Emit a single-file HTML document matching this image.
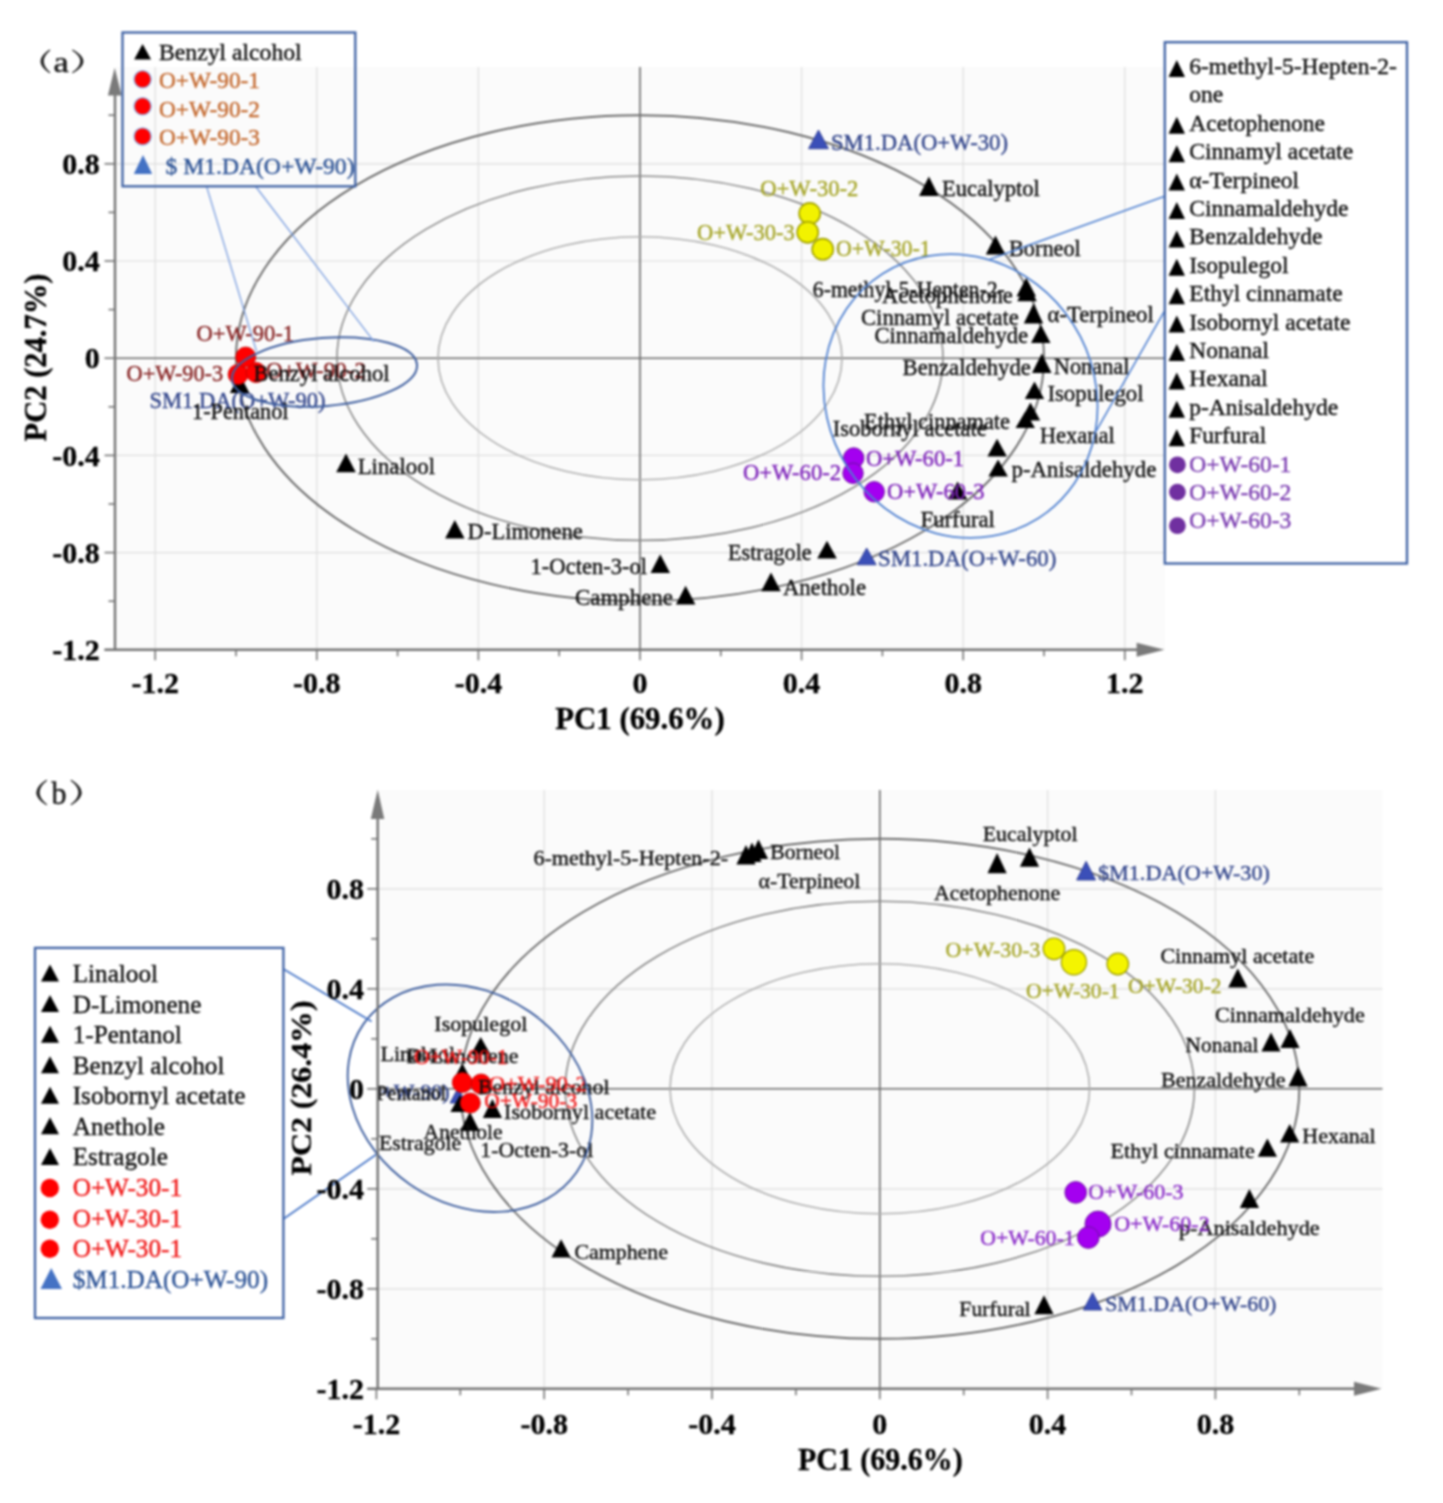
<!DOCTYPE html>
<html><head><meta charset="utf-8"><style>
html,body{margin:0;padding:0;background:#fff;}
svg{display:block;font-family:"Liberation Serif",serif;}
#wrap{filter:blur(0.8px);width:1443px;height:1503px;}
</style></head><body>
<div id="wrap"><svg width="1443" height="1503" viewBox="0 0 1443 1503">
<rect x="0" y="0" width="1443" height="1503" fill="#fff"/>
<rect x="115.0" y="67.0" width="1050.0" height="582.8" fill="#fbfbfb"/>
<line x1="155.2" y1="67.0" x2="155.2" y2="649.8" stroke="#dedede" stroke-width="1.2"/>
<line x1="316.8" y1="67.0" x2="316.8" y2="649.8" stroke="#dedede" stroke-width="1.2"/>
<line x1="478.4" y1="67.0" x2="478.4" y2="649.8" stroke="#dedede" stroke-width="1.2"/>
<line x1="801.6" y1="67.0" x2="801.6" y2="649.8" stroke="#dedede" stroke-width="1.2"/>
<line x1="963.2" y1="67.0" x2="963.2" y2="649.8" stroke="#dedede" stroke-width="1.2"/>
<line x1="1124.8" y1="67.0" x2="1124.8" y2="649.8" stroke="#dedede" stroke-width="1.2"/>
<line x1="115.0" y1="163.8" x2="1165.0" y2="163.8" stroke="#dedede" stroke-width="1.2"/>
<line x1="115.0" y1="261.0" x2="1165.0" y2="261.0" stroke="#dedede" stroke-width="1.2"/>
<line x1="115.0" y1="455.4" x2="1165.0" y2="455.4" stroke="#dedede" stroke-width="1.2"/>
<line x1="115.0" y1="552.6" x2="1165.0" y2="552.6" stroke="#dedede" stroke-width="1.2"/>
<line x1="640.0" y1="67.0" x2="640.0" y2="649.8" stroke="#6a6a6a" stroke-width="1.6"/>
<line x1="115.0" y1="358.2" x2="1165.0" y2="358.2" stroke="#6a6a6a" stroke-width="1.6"/>
<ellipse cx="640.0" cy="358.2" rx="404.0" ry="243.0" fill="none" stroke="#6c6c6c" stroke-width="1.9"/>
<ellipse cx="640.0" cy="358.2" rx="303.0" ry="182.2" fill="none" stroke="#8a8a8a" stroke-width="1.6"/>
<ellipse cx="640.0" cy="358.2" rx="202.0" ry="121.5" fill="none" stroke="#b0b0b0" stroke-width="1.6"/>
<rect x="377.7" y="790.0" width="1004.8" height="598.8" fill="#fbfbfb"/>
<line x1="544.2" y1="790.0" x2="544.2" y2="1388.8" stroke="#dedede" stroke-width="1.2"/>
<line x1="712.0" y1="790.0" x2="712.0" y2="1388.8" stroke="#dedede" stroke-width="1.2"/>
<line x1="1047.6" y1="790.0" x2="1047.6" y2="1388.8" stroke="#dedede" stroke-width="1.2"/>
<line x1="1215.4" y1="790.0" x2="1215.4" y2="1388.8" stroke="#dedede" stroke-width="1.2"/>
<line x1="377.7" y1="888.8" x2="1382.5" y2="888.8" stroke="#dedede" stroke-width="1.2"/>
<line x1="377.7" y1="988.8" x2="1382.5" y2="988.8" stroke="#dedede" stroke-width="1.2"/>
<line x1="377.7" y1="1188.8" x2="1382.5" y2="1188.8" stroke="#dedede" stroke-width="1.2"/>
<line x1="377.7" y1="1288.8" x2="1382.5" y2="1288.8" stroke="#dedede" stroke-width="1.2"/>
<line x1="879.8" y1="790.0" x2="879.8" y2="1388.8" stroke="#6a6a6a" stroke-width="1.6"/>
<line x1="377.7" y1="1088.8" x2="1382.5" y2="1088.8" stroke="#6a6a6a" stroke-width="1.6"/>
<ellipse cx="879.8" cy="1088.8" rx="419.5" ry="250.0" fill="none" stroke="#6c6c6c" stroke-width="1.9"/>
<ellipse cx="879.8" cy="1088.8" rx="314.6" ry="187.5" fill="none" stroke="#8a8a8a" stroke-width="1.6"/>
<ellipse cx="879.8" cy="1088.8" rx="209.8" ry="125.0" fill="none" stroke="#b0b0b0" stroke-width="1.6"/>
<polygon points="928.9,176.6 938.6,196.0 919.1,196.0" fill="#000"/>
<polygon points="995.5,235.6 1005.2,254.4 985.8,254.4" fill="#000"/>
<polygon points="1026.2,277.7 1036.0,296.5 1016.5,296.5" fill="#000"/>
<polygon points="1027.0,282.7 1036.8,301.3 1017.2,301.3" fill="#000"/>
<polygon points="1033.5,303.6 1043.2,323.5 1023.8,323.5" fill="#000"/>
<polygon points="1040.8,324.4 1050.5,343.0 1031.0,343.0" fill="#000"/>
<polygon points="1041.8,353.5 1051.5,373.0 1032.0,373.0" fill="#000"/>
<polygon points="1034.5,381.6 1044.2,399.0 1024.8,399.0" fill="#000"/>
<polygon points="1030.4,402.4 1040.2,420.5 1020.7,420.5" fill="#000"/>
<polygon points="1025.2,411.8 1035.0,428.0 1015.5,428.0" fill="#000"/>
<polygon points="997.1,438.8 1006.9,456.5 987.4,456.5" fill="#000"/>
<polygon points="998.1,459.6 1007.9,476.5 988.4,476.5" fill="#000"/>
<polygon points="957.6,481.4 967.4,499.5 947.9,499.5" fill="#000"/>
<polygon points="827.0,540.7 836.8,558.5 817.2,558.5" fill="#000"/>
<polygon points="771.0,572.4 780.8,591.2 761.2,591.2" fill="#000"/>
<polygon points="685.6,585.7 695.4,604.5 675.9,604.5" fill="#000"/>
<polygon points="660.2,554.2 670.0,573.0 650.5,573.0" fill="#000"/>
<polygon points="454.8,520.1 464.6,538.5 445.1,538.5" fill="#000"/>
<polygon points="346.0,453.4 355.8,472.3 336.2,472.3" fill="#000"/>
<polygon points="239.7,374.2 249.4,393.0 229.9,393.0" fill="#000"/>
<polygon points="818.5,130.0 828.5,148.7 808.5,148.7" fill="#3b4fb8" stroke="#24328a" stroke-width="0.8"/>
<polygon points="866.7,548.0 876.2,564.8 857.2,564.8" fill="#3b4fb8" stroke="#24328a" stroke-width="0.8"/>
<circle cx="238.1" cy="374.4" r="10.0" fill="#ff0000" stroke="#c00000" stroke-width="0.8"/>
<circle cx="256.1" cy="372.5" r="10.0" fill="#ff0000" stroke="#c00000" stroke-width="0.8"/>
<circle cx="245.7" cy="357.0" r="10.0" fill="#ff0000" stroke="#c00000" stroke-width="0.8"/>
<circle cx="809.7" cy="213.5" r="10.6" fill="#f2f200" stroke="#a2a200" stroke-width="1.6"/>
<circle cx="807.7" cy="232.3" r="10.6" fill="#f2f200" stroke="#a2a200" stroke-width="1.6"/>
<circle cx="822.7" cy="249.2" r="10.6" fill="#f2f200" stroke="#a2a200" stroke-width="1.6"/>
<circle cx="853.7" cy="458.0" r="10.2" fill="#a400f0" stroke="#6a10a0" stroke-width="1.0"/>
<circle cx="853.0" cy="473.2" r="10.2" fill="#a400f0" stroke="#6a10a0" stroke-width="1.0"/>
<circle cx="874.2" cy="491.8" r="10.2" fill="#a400f0" stroke="#6a10a0" stroke-width="1.0"/>
<text x="196.5" y="341.0" fill="#862222" font-size="22.6" textLength="97.5" lengthAdjust="spacingAndGlyphs" stroke="#862222" stroke-width="0.4">O+W-90-1</text>
<text x="126.6" y="381.0" fill="#862222" font-size="22.6" textLength="96.4" lengthAdjust="spacingAndGlyphs" stroke="#862222" stroke-width="0.4">O+W-90-3</text>
<text x="266.0" y="377.8" fill="#862222" font-size="22.6" textLength="100.0" lengthAdjust="spacingAndGlyphs" stroke="#862222" stroke-width="0.4">O+W-90-2</text>
<text x="149.5" y="408.2" fill="#34478c" font-size="22.6" textLength="176.0" lengthAdjust="spacingAndGlyphs" stroke="#34478c" stroke-width="0.4">SM1.DA(O+W-90)</text>
<text x="253.5" y="381.0" fill="#101010" font-size="22.6" textLength="136.0" lengthAdjust="spacingAndGlyphs" stroke="#101010" stroke-width="0.4">Benzyl alcohol</text>
<text x="192.0" y="419.3" fill="#101010" font-size="22.6" textLength="96.5" lengthAdjust="spacingAndGlyphs" stroke="#101010" stroke-width="0.4">1-Pentanol</text>
<text x="357.7" y="474.0" fill="#101010" font-size="22.6" textLength="77.3" lengthAdjust="spacingAndGlyphs" stroke="#101010" stroke-width="0.4">Linalool</text>
<text x="467.6" y="538.9" fill="#101010" font-size="22.6" textLength="115.3" lengthAdjust="spacingAndGlyphs" stroke="#101010" stroke-width="0.4">D-Limonene</text>
<text x="530.6" y="574.2" fill="#101010" font-size="22.6" textLength="116.4" lengthAdjust="spacingAndGlyphs" stroke="#101010" stroke-width="0.4">1-Octen-3-ol</text>
<text x="575.0" y="604.5" fill="#101010" font-size="22.6" textLength="98.0" lengthAdjust="spacingAndGlyphs" stroke="#101010" stroke-width="0.4">Camphene</text>
<text x="728.0" y="559.8" fill="#101010" font-size="22.6" textLength="83.7" lengthAdjust="spacingAndGlyphs" stroke="#101010" stroke-width="0.4">Estragole</text>
<text x="782.9" y="594.8" fill="#101010" font-size="22.6" textLength="83.1" lengthAdjust="spacingAndGlyphs" stroke="#101010" stroke-width="0.4">Anethole</text>
<text x="878.0" y="566.0" fill="#34478c" font-size="22.6" textLength="178.4" lengthAdjust="spacingAndGlyphs" stroke="#34478c" stroke-width="0.4">SM1.DA(O+W-60)</text>
<text x="920.5" y="527.4" fill="#101010" font-size="22.6" textLength="74.4" lengthAdjust="spacingAndGlyphs" stroke="#101010" stroke-width="0.4">Furfural</text>
<text x="1011.5" y="477.4" fill="#101010" font-size="22.6" textLength="144.9" lengthAdjust="spacingAndGlyphs" stroke="#101010" stroke-width="0.4">p-Anisaldehyde</text>
<text x="1039.7" y="442.8" fill="#101010" font-size="22.6" textLength="75.2" lengthAdjust="spacingAndGlyphs" stroke="#101010" stroke-width="0.4">Hexanal</text>
<text x="864.0" y="428.7" fill="#101010" font-size="22.6" textLength="146.0" lengthAdjust="spacingAndGlyphs" stroke="#101010" stroke-width="0.4">Ethyl cinnamate</text>
<text x="832.8" y="435.9" fill="#101010" font-size="22.6" textLength="153.9" lengthAdjust="spacingAndGlyphs" stroke="#101010" stroke-width="0.4">Isobornyl acetate</text>
<text x="866.0" y="466.0" fill="#7e24ba" font-size="22.6" textLength="98.0" lengthAdjust="spacingAndGlyphs" stroke="#7e24ba" stroke-width="0.4">O+W-60-1</text>
<text x="743.0" y="480.0" fill="#7e24ba" font-size="22.6" textLength="98.0" lengthAdjust="spacingAndGlyphs" stroke="#7e24ba" stroke-width="0.4">O+W-60-2</text>
<text x="887.0" y="499.2" fill="#7e24ba" font-size="22.6" textLength="97.6" lengthAdjust="spacingAndGlyphs" stroke="#7e24ba" stroke-width="0.4">O+W-60-3</text>
<text x="1047.4" y="400.5" fill="#101010" font-size="22.6" textLength="96.2" lengthAdjust="spacingAndGlyphs" stroke="#101010" stroke-width="0.4">Isopulegol</text>
<text x="902.6" y="374.9" fill="#101010" font-size="22.6" textLength="128.2" lengthAdjust="spacingAndGlyphs" stroke="#101010" stroke-width="0.4">Benzaldehyde</text>
<text x="1053.8" y="373.6" fill="#101010" font-size="22.6" textLength="75.7" lengthAdjust="spacingAndGlyphs" stroke="#101010" stroke-width="0.4">Nonanal</text>
<text x="874.4" y="342.8" fill="#101010" font-size="22.6" textLength="153.8" lengthAdjust="spacingAndGlyphs" stroke="#101010" stroke-width="0.4">Cinnamaldehyde</text>
<text x="861.0" y="324.9" fill="#101010" font-size="22.6" textLength="157.8" lengthAdjust="spacingAndGlyphs" stroke="#101010" stroke-width="0.4">Cinnamyl acetate</text>
<text x="1047.4" y="322.3" fill="#101010" font-size="22.6" textLength="106.4" lengthAdjust="spacingAndGlyphs" stroke="#101010" stroke-width="0.4">α-Terpineol</text>
<text x="882.0" y="303.0" fill="#101010" font-size="22.6" textLength="130.8" lengthAdjust="spacingAndGlyphs" stroke="#101010" stroke-width="0.4">Acetophenone</text>
<text x="812.8" y="297.2" fill="#101010" font-size="22.6" textLength="192.0" lengthAdjust="spacingAndGlyphs" stroke="#101010" stroke-width="0.4">6-methyl-5-Hepten-2-</text>
<text x="1009.0" y="255.6" fill="#101010" font-size="22.6" textLength="71.8" lengthAdjust="spacingAndGlyphs" stroke="#101010" stroke-width="0.4">Borneol</text>
<text x="942.0" y="196.0" fill="#101010" font-size="22.6" stroke="#101010" stroke-width="0.4">Eucalyptol</text>
<text x="831.0" y="150.0" fill="#34478c" font-size="22.6" textLength="177.0" lengthAdjust="spacingAndGlyphs" stroke="#34478c" stroke-width="0.4">SM1.DA(O+W-30)</text>
<text x="760.3" y="196.0" fill="#a6a62a" font-size="22.6" textLength="98.1" lengthAdjust="spacingAndGlyphs" stroke="#a6a62a" stroke-width="0.4">O+W-30-2</text>
<text x="697.0" y="239.7" fill="#a6a62a" font-size="22.6" textLength="97.8" lengthAdjust="spacingAndGlyphs" stroke="#a6a62a" stroke-width="0.4">O+W-30-3</text>
<text x="836.0" y="256.0" fill="#a6a62a" font-size="22.6" textLength="94.7" lengthAdjust="spacingAndGlyphs" stroke="#a6a62a" stroke-width="0.4">O+W-30-1</text>
<ellipse cx="324.5" cy="372.0" rx="92.8" ry="34.0" fill="none" stroke="#3f5f9f" stroke-width="2.0" transform="rotate(-4.6 324.5 372.0)"/>
<ellipse cx="960.5" cy="396.0" rx="145.0" ry="133.7" fill="none" stroke="#4f80d0" stroke-width="1.8" transform="rotate(57.5 960.5 396.0)"/>
<line x1="206.6" y1="186.5" x2="256.5" y2="351.3" stroke="#7c9fe0" stroke-width="1.3"/>
<line x1="255.7" y1="186.5" x2="373.8" y2="341.3" stroke="#7c9fe0" stroke-width="1.3"/>
<line x1="1164.0" y1="196.4" x2="989.9" y2="259.3" stroke="#4f80d0" stroke-width="1.6"/>
<line x1="1164.0" y1="311.9" x2="1096.0" y2="431.4" stroke="#4f80d0" stroke-width="1.6"/>
<line x1="104.5" y1="649.8" x2="1138.0" y2="649.8" stroke="#747474" stroke-width="2.4"/>
<line x1="115.0" y1="95.0" x2="115.0" y2="651.0" stroke="#747474" stroke-width="2.4"/>
<polygon points="114.7,67.8 121.6,95.5 107.9,95.5" fill="#7a7a7a"/>
<polygon points="1164.5,649.8 1136.6,642.8 1136.6,656.8" fill="#7a7a7a"/>
<line x1="155.2" y1="649.8" x2="155.2" y2="660.3" stroke="#747474" stroke-width="1.6"/>
<line x1="236.0" y1="649.8" x2="236.0" y2="656.3" stroke="#747474" stroke-width="1.6"/>
<line x1="316.8" y1="649.8" x2="316.8" y2="660.3" stroke="#747474" stroke-width="1.6"/>
<line x1="397.6" y1="649.8" x2="397.6" y2="656.3" stroke="#747474" stroke-width="1.6"/>
<line x1="478.4" y1="649.8" x2="478.4" y2="660.3" stroke="#747474" stroke-width="1.6"/>
<line x1="559.2" y1="649.8" x2="559.2" y2="656.3" stroke="#747474" stroke-width="1.6"/>
<line x1="640.0" y1="649.8" x2="640.0" y2="660.3" stroke="#747474" stroke-width="1.6"/>
<line x1="720.8" y1="649.8" x2="720.8" y2="656.3" stroke="#747474" stroke-width="1.6"/>
<line x1="801.6" y1="649.8" x2="801.6" y2="660.3" stroke="#747474" stroke-width="1.6"/>
<line x1="882.4" y1="649.8" x2="882.4" y2="656.3" stroke="#747474" stroke-width="1.6"/>
<line x1="963.2" y1="649.8" x2="963.2" y2="660.3" stroke="#747474" stroke-width="1.6"/>
<line x1="1044.0" y1="649.8" x2="1044.0" y2="656.3" stroke="#747474" stroke-width="1.6"/>
<line x1="1124.8" y1="649.8" x2="1124.8" y2="660.3" stroke="#747474" stroke-width="1.6"/>
<line x1="104.5" y1="649.8" x2="115.0" y2="649.8" stroke="#747474" stroke-width="1.6"/>
<line x1="108.5" y1="601.2" x2="115.0" y2="601.2" stroke="#747474" stroke-width="1.6"/>
<line x1="104.5" y1="552.6" x2="115.0" y2="552.6" stroke="#747474" stroke-width="1.6"/>
<line x1="108.5" y1="504.0" x2="115.0" y2="504.0" stroke="#747474" stroke-width="1.6"/>
<line x1="104.5" y1="455.4" x2="115.0" y2="455.4" stroke="#747474" stroke-width="1.6"/>
<line x1="108.5" y1="406.8" x2="115.0" y2="406.8" stroke="#747474" stroke-width="1.6"/>
<line x1="104.5" y1="358.2" x2="115.0" y2="358.2" stroke="#747474" stroke-width="1.6"/>
<line x1="108.5" y1="309.6" x2="115.0" y2="309.6" stroke="#747474" stroke-width="1.6"/>
<line x1="104.5" y1="261.0" x2="115.0" y2="261.0" stroke="#747474" stroke-width="1.6"/>
<line x1="108.5" y1="212.4" x2="115.0" y2="212.4" stroke="#747474" stroke-width="1.6"/>
<line x1="104.5" y1="163.8" x2="115.0" y2="163.8" stroke="#747474" stroke-width="1.6"/>
<line x1="108.5" y1="115.2" x2="115.0" y2="115.2" stroke="#747474" stroke-width="1.6"/>
<text x="155.2" y="693.4" fill="#000" font-size="30" font-weight="bold" text-anchor="middle" stroke="#000" stroke-width="0.3">-1.2</text>
<text x="316.8" y="693.4" fill="#000" font-size="30" font-weight="bold" text-anchor="middle" stroke="#000" stroke-width="0.3">-0.8</text>
<text x="478.4" y="693.4" fill="#000" font-size="30" font-weight="bold" text-anchor="middle" stroke="#000" stroke-width="0.3">-0.4</text>
<text x="640.0" y="693.4" fill="#000" font-size="30" font-weight="bold" text-anchor="middle" stroke="#000" stroke-width="0.3">0</text>
<text x="801.6" y="693.4" fill="#000" font-size="30" font-weight="bold" text-anchor="middle" stroke="#000" stroke-width="0.3">0.4</text>
<text x="963.2" y="693.4" fill="#000" font-size="30" font-weight="bold" text-anchor="middle" stroke="#000" stroke-width="0.3">0.8</text>
<text x="1124.8" y="693.4" fill="#000" font-size="30" font-weight="bold" text-anchor="middle" stroke="#000" stroke-width="0.3">1.2</text>
<text x="99.8" y="174.0" fill="#000" font-size="30" font-weight="bold" text-anchor="end" stroke="#000" stroke-width="0.3">0.8</text>
<text x="99.8" y="271.2" fill="#000" font-size="30" font-weight="bold" text-anchor="end" stroke="#000" stroke-width="0.3">0.4</text>
<text x="99.8" y="368.4" fill="#000" font-size="30" font-weight="bold" text-anchor="end" stroke="#000" stroke-width="0.3">0</text>
<text x="99.8" y="465.6" fill="#000" font-size="30" font-weight="bold" text-anchor="end" stroke="#000" stroke-width="0.3">-0.4</text>
<text x="99.8" y="562.8" fill="#000" font-size="30" font-weight="bold" text-anchor="end" stroke="#000" stroke-width="0.3">-0.8</text>
<text x="99.8" y="660.0" fill="#000" font-size="30" font-weight="bold" text-anchor="end" stroke="#000" stroke-width="0.3">-1.2</text>
<text x="640.0" y="729.4" fill="#000" font-size="31" font-weight="bold" text-anchor="middle" textLength="169.4" lengthAdjust="spacingAndGlyphs" stroke="#000" stroke-width="0.3">PC1 (69.6%)</text>
<text transform="translate(45.5 357.5) rotate(-90)" x="0" y="0" text-anchor="middle" fill="#000" stroke="#000" stroke-width="0.3" font-size="31" font-weight="bold" textLength="168" lengthAdjust="spacingAndGlyphs">PC2 (24.7%)</text>
<path d="M49.5 49.5 Q31.3 61.4 49.5 73.2 L50.4 72.4 Q37.1 61.4 50.4 50.3 Z" fill="#222"/>
<path d="M72.8 49.5 Q94.4 61.4 72.8 73.2 L71.9 72.4 Q88.6 61.4 71.9 50.3 Z" fill="#222"/>
<text x="53.6" y="72.4" font-size="30" fill="#1a1a1a" stroke="#1a1a1a" stroke-width="0.5" textLength="15.2" lengthAdjust="spacingAndGlyphs">a</text>
<rect x="122.5" y="32.5" width="232.8" height="153.8" fill="none" stroke="#3f62a4" stroke-width="2.3"/>
<polygon points="142.6,44.0 151.1,59.5 134.1,59.5" fill="#000"/>
<text x="159.0" y="59.5" fill="#101010" font-size="23.5" textLength="142.7" lengthAdjust="spacingAndGlyphs" stroke="#101010" stroke-width="0.4">Benzyl alcohol</text>
<circle cx="142.6" cy="79.3" r="8.6" fill="#ff0000" stroke="#8fb4e8" stroke-width="1.3"/>
<text x="159.0" y="87.6" fill="#c4692f" font-size="23.5" textLength="101.0" lengthAdjust="spacingAndGlyphs" stroke="#c4692f" stroke-width="0.4">O+W-90-1</text>
<circle cx="142.6" cy="106.3" r="8.6" fill="#ff0000" stroke="#8fb4e8" stroke-width="1.3"/>
<text x="159.0" y="116.7" fill="#c4692f" font-size="23.5" textLength="101.0" lengthAdjust="spacingAndGlyphs" stroke="#c4692f" stroke-width="0.4">O+W-90-2</text>
<circle cx="142.6" cy="136.4" r="8.6" fill="#ff0000" stroke="#8fb4e8" stroke-width="1.3"/>
<text x="159.0" y="144.7" fill="#c4692f" font-size="23.5" textLength="101.0" lengthAdjust="spacingAndGlyphs" stroke="#c4692f" stroke-width="0.4">O+W-90-3</text>
<polygon points="143.0,155.0 152.2,174.0 133.8,174.0" fill="#4472c4"/>
<text x="165.5" y="173.8" fill="#2f5597" font-size="23.5" textLength="189.0" lengthAdjust="spacingAndGlyphs" stroke="#2f5597" stroke-width="0.4">$ M1.DA(O+W-90)</text>
<rect x="1164.8" y="42.2" width="242.2" height="521.3" fill="#ffffff" stroke="#3f62a4" stroke-width="2.3"/>
<polygon points="1176.8,60.0 1185.0,77.0 1168.5,77.0" fill="#000"/>
<text x="1189.3" y="74.0" fill="#101010" font-size="23.5" stroke="#101010" stroke-width="0.4">6-methyl-5-Hepten-2-</text>
<text x="1189.3" y="102.4" fill="#101010" font-size="23.5" stroke="#101010" stroke-width="0.4">one</text>
<polygon points="1176.8,116.8 1185.0,133.8 1168.5,133.8" fill="#000"/>
<text x="1189.3" y="130.8" fill="#101010" font-size="23.5" stroke="#101010" stroke-width="0.4">Acetophenone</text>
<polygon points="1176.8,145.2 1185.0,162.2 1168.5,162.2" fill="#000"/>
<text x="1189.3" y="159.2" fill="#101010" font-size="23.5" stroke="#101010" stroke-width="0.4">Cinnamyl acetate</text>
<polygon points="1176.8,173.6 1185.0,190.6 1168.5,190.6" fill="#000"/>
<text x="1189.3" y="187.6" fill="#101010" font-size="23.5" stroke="#101010" stroke-width="0.4">α-Terpineol</text>
<polygon points="1176.8,202.0 1185.0,219.0 1168.5,219.0" fill="#000"/>
<text x="1189.3" y="216.0" fill="#101010" font-size="23.5" stroke="#101010" stroke-width="0.4">Cinnamaldehyde</text>
<polygon points="1176.8,230.4 1185.0,247.4 1168.5,247.4" fill="#000"/>
<text x="1189.3" y="244.4" fill="#101010" font-size="23.5" stroke="#101010" stroke-width="0.4">Benzaldehyde</text>
<polygon points="1176.8,258.8 1185.0,275.8 1168.5,275.8" fill="#000"/>
<text x="1189.3" y="272.8" fill="#101010" font-size="23.5" stroke="#101010" stroke-width="0.4">Isopulegol</text>
<polygon points="1176.8,287.2 1185.0,304.2 1168.5,304.2" fill="#000"/>
<text x="1189.3" y="301.2" fill="#101010" font-size="23.5" stroke="#101010" stroke-width="0.4">Ethyl cinnamate</text>
<polygon points="1176.8,315.6 1185.0,332.6 1168.5,332.6" fill="#000"/>
<text x="1189.3" y="329.6" fill="#101010" font-size="23.5" stroke="#101010" stroke-width="0.4">Isobornyl acetate</text>
<polygon points="1176.8,344.0 1185.0,361.0 1168.5,361.0" fill="#000"/>
<text x="1189.3" y="358.0" fill="#101010" font-size="23.5" stroke="#101010" stroke-width="0.4">Nonanal</text>
<polygon points="1176.8,372.4 1185.0,389.4 1168.5,389.4" fill="#000"/>
<text x="1189.3" y="386.4" fill="#101010" font-size="23.5" stroke="#101010" stroke-width="0.4">Hexanal</text>
<polygon points="1176.8,400.8 1185.0,417.8 1168.5,417.8" fill="#000"/>
<text x="1189.3" y="414.8" fill="#101010" font-size="23.5" stroke="#101010" stroke-width="0.4">p-Anisaldehyde</text>
<polygon points="1176.8,429.2 1185.0,446.2 1168.5,446.2" fill="#000"/>
<text x="1189.3" y="443.2" fill="#101010" font-size="23.5" stroke="#101010" stroke-width="0.4">Furfural</text>
<circle cx="1177.4" cy="464.8" r="8.4" fill="#7030a0"/>
<text x="1189.3" y="471.6" fill="#7a3cb0" font-size="23.5" stroke="#7a3cb0" stroke-width="0.4">O+W-60-1</text>
<circle cx="1177.4" cy="492.1" r="8.4" fill="#7030a0"/>
<text x="1189.3" y="500.0" fill="#7a3cb0" font-size="23.5" stroke="#7a3cb0" stroke-width="0.4">O+W-60-2</text>
<circle cx="1177.4" cy="525.7" r="8.4" fill="#7030a0"/>
<text x="1189.3" y="528.4" fill="#7a3cb0" font-size="23.5" stroke="#7a3cb0" stroke-width="0.4">O+W-60-3</text>
<clipPath id="cb"><rect x="377.5" y="790" width="1005" height="600"/></clipPath>
<polygon points="458.0,1088.0 466.0,1103.0 450.0,1103.0" fill="#3b4fb8" stroke="#24328a" stroke-width="0.8"/>
<polygon points="746.0,845.0 755.6,864.5 736.4,864.5" fill="#000"/>
<polygon points="752.0,842.5 761.6,862.0 742.4,862.0" fill="#000"/>
<polygon points="758.5,839.6 768.1,859.0 748.9,859.0" fill="#000"/>
<polygon points="1029.5,847.6 1039.1,866.7 1019.9,866.7" fill="#000"/>
<polygon points="997.1,853.0 1006.7,873.2 987.5,873.2" fill="#000"/>
<polygon points="1237.8,968.4 1247.4,987.4 1228.2,987.4" fill="#000"/>
<polygon points="1271.0,1032.5 1280.6,1051.5 1261.4,1051.5" fill="#000"/>
<polygon points="1290.0,1029.0 1299.6,1048.0 1280.4,1048.0" fill="#000"/>
<polygon points="1298.0,1066.5 1307.6,1086.5 1288.4,1086.5" fill="#000"/>
<polygon points="1289.7,1124.0 1299.3,1142.5 1280.1,1142.5" fill="#000"/>
<polygon points="1267.4,1138.5 1277.0,1156.8 1257.8,1156.8" fill="#000"/>
<polygon points="1249.4,1189.0 1259.0,1208.0 1239.8,1208.0" fill="#000"/>
<polygon points="1044.0,1295.2 1053.6,1314.2 1034.4,1314.2" fill="#000"/>
<polygon points="561.1,1239.3 570.7,1257.5 551.5,1257.5" fill="#000"/>
<polygon points="480.7,1037.1 490.3,1054.0 471.1,1054.0" fill="#000"/>
<polygon points="462.3,1063.2 471.9,1081.0 452.7,1081.0" fill="#000"/>
<polygon points="460.0,1095.0 469.6,1112.0 450.4,1112.0" fill="#000"/>
<polygon points="492.4,1099.0 502.0,1118.0 482.8,1118.0" fill="#000"/>
<polygon points="469.9,1112.0 479.5,1131.0 460.3,1131.0" fill="#000"/>
<polygon points="1086.1,861.3 1095.6,880.0 1076.6,880.0" fill="#3b4fb8" stroke="#24328a" stroke-width="0.8"/>
<polygon points="1092.6,1292.6 1101.8,1310.0 1083.3,1310.0" fill="#3b4fb8" stroke="#24328a" stroke-width="0.8"/>
<circle cx="1054.0" cy="948.8" r="10.8" fill="#f4f400" stroke="#9a9a00" stroke-width="1.2"/>
<circle cx="1073.9" cy="962.2" r="12.6" fill="#f4f400" stroke="#9a9a00" stroke-width="1.2"/>
<circle cx="1117.8" cy="964.0" r="10.8" fill="#f4f400" stroke="#9a9a00" stroke-width="1.2"/>
<circle cx="1075.7" cy="1192.4" r="10.8" fill="#a400f0" stroke="#6a10a0" stroke-width="1.0"/>
<circle cx="1098.0" cy="1224.1" r="13.0" fill="#a400f0" stroke="#6a10a0" stroke-width="1.0"/>
<circle cx="1088.3" cy="1237.5" r="10.8" fill="#a400f0" stroke="#6a10a0" stroke-width="1.0"/>
<circle cx="462.3" cy="1082.6" r="10.0" fill="#ff0000" stroke="#c00000" stroke-width="0.8"/>
<circle cx="481.1" cy="1084.0" r="10.0" fill="#ff0000" stroke="#c00000" stroke-width="0.8"/>
<circle cx="470.3" cy="1103.0" r="10.0" fill="#ff0000" stroke="#c00000" stroke-width="0.8"/>
<text x="533.4" y="865.2" fill="#101010" font-size="22.0" textLength="194.6" lengthAdjust="spacingAndGlyphs" clip-path="url(#cb)" stroke="#101010" stroke-width="0.4">6-methyl-5-Hepten-2-</text>
<text x="770.3" y="859.0" fill="#101010" font-size="22.0" textLength="69.8" lengthAdjust="spacingAndGlyphs" clip-path="url(#cb)" stroke="#101010" stroke-width="0.4">Borneol</text>
<text x="758.6" y="888.4" fill="#101010" font-size="22.0" textLength="101.7" lengthAdjust="spacingAndGlyphs" clip-path="url(#cb)" stroke="#101010" stroke-width="0.4">α-Terpineol</text>
<text x="982.7" y="841.4" fill="#101010" font-size="22.0" textLength="94.8" lengthAdjust="spacingAndGlyphs" clip-path="url(#cb)" stroke="#101010" stroke-width="0.4">Eucalyptol</text>
<text x="934.0" y="900.2" fill="#101010" font-size="22.0" textLength="126.2" lengthAdjust="spacingAndGlyphs" clip-path="url(#cb)" stroke="#101010" stroke-width="0.4">Acetophenone</text>
<text x="1098.0" y="880.0" fill="#34478c" font-size="22.0" textLength="171.9" lengthAdjust="spacingAndGlyphs" clip-path="url(#cb)" stroke="#34478c" stroke-width="0.4">$M1.DA(O+W-30)</text>
<text x="945.6" y="956.8" fill="#a6a62a" font-size="22.0" textLength="94.8" lengthAdjust="spacingAndGlyphs" clip-path="url(#cb)" stroke="#a6a62a" stroke-width="0.4">O+W-30-3</text>
<text x="1026.0" y="997.5" fill="#a6a62a" font-size="22.0" textLength="93.6" lengthAdjust="spacingAndGlyphs" clip-path="url(#cb)" stroke="#a6a62a" stroke-width="0.4">O+W-30-1</text>
<text x="1128.0" y="992.8" fill="#a6a62a" font-size="22.0" textLength="93.6" lengthAdjust="spacingAndGlyphs" clip-path="url(#cb)" stroke="#a6a62a" stroke-width="0.4">O+W-30-2</text>
<text x="1160.4" y="962.9" fill="#101010" font-size="22.0" textLength="153.8" lengthAdjust="spacingAndGlyphs" clip-path="url(#cb)" stroke="#101010" stroke-width="0.4">Cinnamyl acetate</text>
<text x="1215.0" y="1021.8" fill="#101010" font-size="22.0" textLength="149.7" lengthAdjust="spacingAndGlyphs" clip-path="url(#cb)" stroke="#101010" stroke-width="0.4">Cinnamaldehyde</text>
<text x="1185.6" y="1052.3" fill="#101010" font-size="22.0" textLength="72.8" lengthAdjust="spacingAndGlyphs" clip-path="url(#cb)" stroke="#101010" stroke-width="0.4">Nonanal</text>
<text x="1161.0" y="1086.5" fill="#101010" font-size="22.0" textLength="124.4" lengthAdjust="spacingAndGlyphs" clip-path="url(#cb)" stroke="#101010" stroke-width="0.4">Benzaldehyde</text>
<text x="1302.3" y="1143.0" fill="#101010" font-size="22.0" textLength="73.2" lengthAdjust="spacingAndGlyphs" clip-path="url(#cb)" stroke="#101010" stroke-width="0.4">Hexanal</text>
<text x="1110.6" y="1157.5" fill="#101010" font-size="22.0" textLength="144.2" lengthAdjust="spacingAndGlyphs" clip-path="url(#cb)" stroke="#101010" stroke-width="0.4">Ethyl cinnamate</text>
<text x="1179.0" y="1235.0" fill="#101010" font-size="22.0" textLength="140.6" lengthAdjust="spacingAndGlyphs" clip-path="url(#cb)" stroke="#101010" stroke-width="0.4">p-Anisaldehyde</text>
<text x="1088.3" y="1199.0" fill="#8a2cc8" font-size="22.0" textLength="95.1" lengthAdjust="spacingAndGlyphs" clip-path="url(#cb)" stroke="#8a2cc8" stroke-width="0.4">O+W-60-3</text>
<text x="1114.2" y="1231.4" fill="#8a2cc8" font-size="22.0" textLength="95.5" lengthAdjust="spacingAndGlyphs" clip-path="url(#cb)" stroke="#8a2cc8" stroke-width="0.4">O+W-60-2</text>
<text x="980.2" y="1245.0" fill="#8a2cc8" font-size="22.0" textLength="94.4" lengthAdjust="spacingAndGlyphs" clip-path="url(#cb)" stroke="#8a2cc8" stroke-width="0.4">O+W-60-1</text>
<text x="959.3" y="1316.0" fill="#101010" font-size="22.0" textLength="71.3" lengthAdjust="spacingAndGlyphs" clip-path="url(#cb)" stroke="#101010" stroke-width="0.4">Furfural</text>
<text x="1105.2" y="1310.6" fill="#34478c" font-size="22.0" textLength="171.2" lengthAdjust="spacingAndGlyphs" clip-path="url(#cb)" stroke="#34478c" stroke-width="0.4">SM1.DA(O+W-60)</text>
<text x="574.4" y="1259.0" fill="#101010" font-size="22.0" textLength="93.6" lengthAdjust="spacingAndGlyphs" clip-path="url(#cb)" stroke="#101010" stroke-width="0.4">Camphene</text>
<text x="434.3" y="1030.7" fill="#101010" font-size="22.0" textLength="93.0" lengthAdjust="spacingAndGlyphs" clip-path="url(#cb)" stroke="#101010" stroke-width="0.4">Isopulegol</text>
<text x="380.5" y="1061.0" fill="#101010" font-size="22.0" clip-path="url(#cb)" stroke="#101010" stroke-width="0.4">Linalool</text>
<text x="406.5" y="1062.8" fill="#101010" font-size="22.0" textLength="112.0" lengthAdjust="spacingAndGlyphs" clip-path="url(#cb)" stroke="#101010" stroke-width="0.4">D-Limonene</text>
<text x="414.0" y="1064.2" fill="#f01818" font-size="22.0" textLength="93.7" lengthAdjust="spacingAndGlyphs" clip-path="url(#cb)" stroke="#f01818" stroke-width="0.4">O+W-90-1</text>
<text x="278.6" y="1099.0" fill="#34478c" font-size="22.0" textLength="171.0" lengthAdjust="spacingAndGlyphs" clip-path="url(#cb)" stroke="#34478c" stroke-width="0.4">SM1.DA(O+W-90)</text>
<text x="360.0" y="1099.5" fill="#101010" font-size="22.0" textLength="86.0" lengthAdjust="spacingAndGlyphs" clip-path="url(#cb)" stroke="#101010" stroke-width="0.4">1-Pentanol</text>
<text x="478.0" y="1094.0" fill="#101010" font-size="22.0" textLength="131.5" lengthAdjust="spacingAndGlyphs" clip-path="url(#cb)" stroke="#101010" stroke-width="0.4">Benzyl alcohol</text>
<text x="488.8" y="1091.3" fill="#f01818" font-size="22.0" textLength="98.0" lengthAdjust="spacingAndGlyphs" clip-path="url(#cb)" stroke="#f01818" stroke-width="0.4">O+W-90-2</text>
<text x="484.3" y="1107.5" fill="#f01818" font-size="22.0" textLength="92.8" lengthAdjust="spacingAndGlyphs" clip-path="url(#cb)" stroke="#f01818" stroke-width="0.4">O+W-90-3</text>
<text x="504.1" y="1119.2" fill="#101010" font-size="22.0" textLength="152.0" lengthAdjust="spacingAndGlyphs" clip-path="url(#cb)" stroke="#101010" stroke-width="0.4">Isobornyl acetate</text>
<text x="423.6" y="1139.0" fill="#101010" font-size="22.0" textLength="79.0" lengthAdjust="spacingAndGlyphs" clip-path="url(#cb)" stroke="#101010" stroke-width="0.4">Anethole</text>
<text x="378.9" y="1149.6" fill="#101010" font-size="22.0" textLength="82.4" lengthAdjust="spacingAndGlyphs" clip-path="url(#cb)" stroke="#101010" stroke-width="0.4">Estragole</text>
<text x="480.2" y="1156.7" fill="#101010" font-size="22.0" textLength="113.1" lengthAdjust="spacingAndGlyphs" clip-path="url(#cb)" stroke="#101010" stroke-width="0.4">1-Octen-3-ol</text>
<ellipse cx="470.0" cy="1098.2" rx="129.8" ry="105.1" fill="none" stroke="#3f5f9f" stroke-width="1.9" transform="rotate(34.8 470.0 1098.2)"/>
<line x1="283.4" y1="969.0" x2="371.6" y2="1021.6" stroke="#4a78c8" stroke-width="1.8"/>
<line x1="283.4" y1="1219.0" x2="376.9" y2="1153.9" stroke="#4a78c8" stroke-width="1.8"/>
<line x1="367.2" y1="1388.8" x2="1355.0" y2="1388.8" stroke="#747474" stroke-width="2.4"/>
<line x1="377.7" y1="818.0" x2="377.7" y2="1390.0" stroke="#747474" stroke-width="2.4"/>
<polygon points="377.7,789.8 384.3,818.9 370.8,818.9" fill="#7a7a7a"/>
<polygon points="1381.5,1388.8 1354,1381.8 1354,1395.8" fill="#7a7a7a"/>
<line x1="376.4" y1="1388.8" x2="376.4" y2="1399.3" stroke="#747474" stroke-width="1.6"/>
<line x1="460.3" y1="1388.8" x2="460.3" y2="1395.3" stroke="#747474" stroke-width="1.6"/>
<line x1="544.2" y1="1388.8" x2="544.2" y2="1399.3" stroke="#747474" stroke-width="1.6"/>
<line x1="628.1" y1="1388.8" x2="628.1" y2="1395.3" stroke="#747474" stroke-width="1.6"/>
<line x1="712.0" y1="1388.8" x2="712.0" y2="1399.3" stroke="#747474" stroke-width="1.6"/>
<line x1="795.9" y1="1388.8" x2="795.9" y2="1395.3" stroke="#747474" stroke-width="1.6"/>
<line x1="879.8" y1="1388.8" x2="879.8" y2="1399.3" stroke="#747474" stroke-width="1.6"/>
<line x1="963.7" y1="1388.8" x2="963.7" y2="1395.3" stroke="#747474" stroke-width="1.6"/>
<line x1="1047.6" y1="1388.8" x2="1047.6" y2="1399.3" stroke="#747474" stroke-width="1.6"/>
<line x1="1131.5" y1="1388.8" x2="1131.5" y2="1395.3" stroke="#747474" stroke-width="1.6"/>
<line x1="1215.4" y1="1388.8" x2="1215.4" y2="1399.3" stroke="#747474" stroke-width="1.6"/>
<line x1="1299.3" y1="1388.8" x2="1299.3" y2="1395.3" stroke="#747474" stroke-width="1.6"/>
<line x1="367.2" y1="1388.8" x2="377.7" y2="1388.8" stroke="#747474" stroke-width="1.6"/>
<line x1="371.2" y1="1338.8" x2="377.7" y2="1338.8" stroke="#747474" stroke-width="1.6"/>
<line x1="367.2" y1="1288.8" x2="377.7" y2="1288.8" stroke="#747474" stroke-width="1.6"/>
<line x1="371.2" y1="1238.8" x2="377.7" y2="1238.8" stroke="#747474" stroke-width="1.6"/>
<line x1="367.2" y1="1188.8" x2="377.7" y2="1188.8" stroke="#747474" stroke-width="1.6"/>
<line x1="371.2" y1="1138.8" x2="377.7" y2="1138.8" stroke="#747474" stroke-width="1.6"/>
<line x1="367.2" y1="1088.8" x2="377.7" y2="1088.8" stroke="#747474" stroke-width="1.6"/>
<line x1="371.2" y1="1038.8" x2="377.7" y2="1038.8" stroke="#747474" stroke-width="1.6"/>
<line x1="367.2" y1="988.8" x2="377.7" y2="988.8" stroke="#747474" stroke-width="1.6"/>
<line x1="371.2" y1="938.8" x2="377.7" y2="938.8" stroke="#747474" stroke-width="1.6"/>
<line x1="367.2" y1="888.8" x2="377.7" y2="888.8" stroke="#747474" stroke-width="1.6"/>
<line x1="371.2" y1="838.8" x2="377.7" y2="838.8" stroke="#747474" stroke-width="1.6"/>
<text x="376.4" y="1433.5" fill="#000" font-size="30" font-weight="bold" text-anchor="middle" stroke="#000" stroke-width="0.3">-1.2</text>
<text x="544.2" y="1433.5" fill="#000" font-size="30" font-weight="bold" text-anchor="middle" stroke="#000" stroke-width="0.3">-0.8</text>
<text x="712.0" y="1433.5" fill="#000" font-size="30" font-weight="bold" text-anchor="middle" stroke="#000" stroke-width="0.3">-0.4</text>
<text x="879.8" y="1433.5" fill="#000" font-size="30" font-weight="bold" text-anchor="middle" stroke="#000" stroke-width="0.3">0</text>
<text x="1047.6" y="1433.5" fill="#000" font-size="30" font-weight="bold" text-anchor="middle" stroke="#000" stroke-width="0.3">0.4</text>
<text x="1215.4" y="1433.5" fill="#000" font-size="30" font-weight="bold" text-anchor="middle" stroke="#000" stroke-width="0.3">0.8</text>
<text x="364.0" y="899.0" fill="#000" font-size="30" font-weight="bold" text-anchor="end" stroke="#000" stroke-width="0.3">0.8</text>
<text x="364.0" y="999.0" fill="#000" font-size="30" font-weight="bold" text-anchor="end" stroke="#000" stroke-width="0.3">0.4</text>
<text x="364.0" y="1099.0" fill="#000" font-size="30" font-weight="bold" text-anchor="end" stroke="#000" stroke-width="0.3">0</text>
<text x="364.0" y="1199.0" fill="#000" font-size="30" font-weight="bold" text-anchor="end" stroke="#000" stroke-width="0.3">-0.4</text>
<text x="364.0" y="1299.0" fill="#000" font-size="30" font-weight="bold" text-anchor="end" stroke="#000" stroke-width="0.3">-0.8</text>
<text x="364.0" y="1399.0" fill="#000" font-size="30" font-weight="bold" text-anchor="end" stroke="#000" stroke-width="0.3">-1.2</text>
<text x="880.3" y="1470.3" fill="#000" font-size="31" font-weight="bold" text-anchor="middle" textLength="164.7" lengthAdjust="spacingAndGlyphs" stroke="#000" stroke-width="0.3">PC1 (69.6%)</text>
<text transform="translate(310.5 1088) rotate(-90)" x="0" y="0" text-anchor="middle" fill="#000" stroke="#000" stroke-width="0.3" font-size="30" font-weight="bold" textLength="175" lengthAdjust="spacingAndGlyphs">PC2 (26.4%)</text>
<path d="M46.3 779.7 Q26.3 792.5 46.3 805.3 L47.2 804.5 Q32.1 792.5 47.2 780.5 Z" fill="#222"/>
<path d="M71.3 779.7 Q92.1 792.5 71.3 805.3 L70.4 804.5 Q86.3 792.5 70.4 780.5 Z" fill="#222"/>
<text x="51.4" y="804.3" font-size="32" fill="#1a1a1a" stroke="#1a1a1a" stroke-width="0.5" textLength="15" lengthAdjust="spacingAndGlyphs">b</text>
<rect x="35" y="947.9" width="248.4" height="370.1" fill="#ffffff" stroke="#3f62a4" stroke-width="2.3"/>
<polygon points="50.0,964.6 59.0,981.6 41.0,981.6" fill="#000"/>
<text x="72.7" y="982.1" fill="#101010" font-size="25.2" stroke="#101010" stroke-width="0.4">Linalool</text>
<polygon points="50.0,995.1 59.0,1012.1 41.0,1012.1" fill="#000"/>
<text x="72.7" y="1012.6" fill="#101010" font-size="25.2" stroke="#101010" stroke-width="0.4">D-Limonene</text>
<polygon points="50.0,1025.7 59.0,1042.7 41.0,1042.7" fill="#000"/>
<text x="72.7" y="1043.2" fill="#101010" font-size="25.2" stroke="#101010" stroke-width="0.4">1-Pentanol</text>
<polygon points="50.0,1056.2 59.0,1073.2 41.0,1073.2" fill="#000"/>
<text x="72.7" y="1073.8" fill="#101010" font-size="25.2" stroke="#101010" stroke-width="0.4">Benzyl alcohol</text>
<polygon points="50.0,1086.8 59.0,1103.8 41.0,1103.8" fill="#000"/>
<text x="72.7" y="1104.3" fill="#101010" font-size="25.2" stroke="#101010" stroke-width="0.4">Isobornyl acetate</text>
<polygon points="50.0,1117.3 59.0,1134.3 41.0,1134.3" fill="#000"/>
<text x="72.7" y="1134.8" fill="#101010" font-size="25.2" stroke="#101010" stroke-width="0.4">Anethole</text>
<polygon points="50.0,1147.9 59.0,1164.9 41.0,1164.9" fill="#000"/>
<text x="72.7" y="1165.4" fill="#101010" font-size="25.2" stroke="#101010" stroke-width="0.4">Estragole</text>
<circle cx="49.8" cy="1188.0" r="9.2" fill="#ff0000"/>
<text x="72.7" y="1196.0" fill="#f01818" font-size="25.2" stroke="#f01818" stroke-width="0.4">O+W-30-1</text>
<circle cx="49.8" cy="1219.7" r="9.2" fill="#ff0000"/>
<text x="72.7" y="1226.5" fill="#f01818" font-size="25.2" stroke="#f01818" stroke-width="0.4">O+W-30-1</text>
<circle cx="49.8" cy="1248.7" r="9.2" fill="#ff0000"/>
<text x="72.7" y="1257.0" fill="#f01818" font-size="25.2" stroke="#f01818" stroke-width="0.4">O+W-30-1</text>
<polygon points="51.2,1268.0 62.0,1289.0 40.5,1289.0" fill="#4472c4"/>
<text x="72.7" y="1287.6" fill="#2f5597" font-size="25.2" stroke="#2f5597" stroke-width="0.4">$M1.DA(O+W-90)</text>
</svg></div>
</body></html>
